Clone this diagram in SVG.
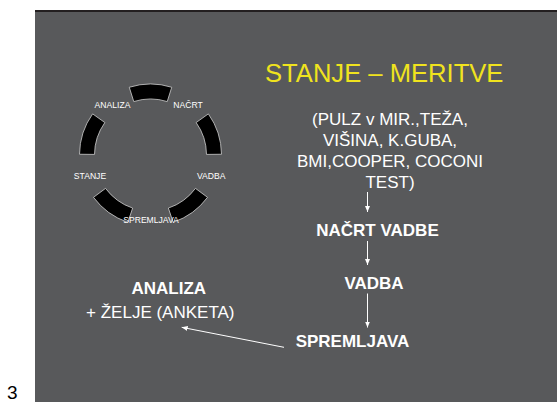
<svg xmlns="http://www.w3.org/2000/svg" width="557" height="402" viewBox="0 0 557 402">
<defs>
<style>
.t{font-family:"Liberation Sans",Arial,sans-serif;fill:#ffffff}
.s{font-size:8.6px;text-anchor:middle}
.m{font-size:17px;text-anchor:middle}
.b{font-weight:bold}
.seg{fill:#000000;stroke:#cfcfcf;stroke-width:0.8}
.c{stroke:#ffffff;stroke-width:1;fill:none}
</style>
<marker id="ah" markerWidth="7" markerHeight="6" refX="6" refY="3" orient="auto" markerUnits="userSpaceOnUse">
<path d="M0,0.5 L6,3 L0,5.5 z" fill="#ffffff"/>
</marker>
</defs>
<rect x="0" y="0" width="557" height="402" fill="#ffffff"/>
<rect x="35" y="10" width="522" height="392" fill="#58595b"/>
<rect x="35" y="10" width="522" height="2" fill="#231f20"/>
<text x="7" y="399" font-family="Liberation Sans,Arial,sans-serif" font-size="19" fill="#000000">3</text>

<g id="cycle">
<path class="seg" d="M129.27,87.25 A71,71 0 0 1 171.73,87.25 L167.24,101.56 A56,56 0 0 0 133.76,101.56 Z"/>
<path class="seg" d="M208.37,113.87 A71,71 0 0 1 221.5,154.26 L206.5,154.41 A56,56 0 0 0 196.15,122.56 Z"/>
<path class="seg" d="M207.5,197.33 A71,71 0 0 1 173.15,222.29 L168.36,208.08 A56,56 0 0 0 195.46,188.39 Z"/>
<path class="seg" d="M127.85,222.29 A71,71 0 0 1 93.5,197.33 L105.54,188.39 A56,56 0 0 0 132.64,208.08 Z"/>
<path class="seg" d="M79.5,154.26 A71,71 0 0 1 92.63,113.87 L104.85,122.56 A56,56 0 0 0 94.5,154.41 Z"/>
</g>
<g id="cycle-labels">
<text class="t s" x="112.5" y="107.5">ANALIZA</text>
<text class="t s" x="188" y="107.5">NAČRT</text>
<text class="t s" x="90" y="179.3">STANJE</text>
<text class="t s" x="211.2" y="179.3">VADBA</text>
<text class="t s" x="151" y="223.3">SPREMLJAVA</text>
</g>

<g id="title">
<text x="265" y="82" font-family="Liberation Sans,Arial,sans-serif" font-size="25.6" fill="#f0e31e">STANJE – MERITVE</text>
</g>

<g id="node-meritve">
<text class="t m" x="390" y="124.5">(PULZ v MIR.,TEŽA,</text>
<text class="t m" x="390" y="145.5">VIŠINA, K.GUBA,</text>
<text class="t m" x="390" y="166.5">BMI,COOPER, COCONI</text>
<text class="t m" x="390" y="187.5">TEST)</text>
</g>
<g id="node-nacrt">
<text class="t m b" x="377.5" y="235.5">NAČRT VADBE</text>
</g>
<g id="node-vadba">
<text class="t m b" x="374" y="289">VADBA</text>
</g>
<g id="node-spremljava">
<text class="t m b" x="352.5" y="346.7">SPREMLJAVA</text>
</g>
<g id="node-analiza">
<text class="t m b" x="168.8" y="294.3">ANALIZA</text>
<text class="t m" x="160.3" y="318.3">+ ŽELJE (ANKETA)</text>
</g>

<g id="connectors">
<line class="c" x1="367.5" y1="192" x2="367.5" y2="212" marker-end="url(#ah)"/>
<line class="c" x1="367.5" y1="241" x2="367.5" y2="265" marker-end="url(#ah)"/>
<line class="c" x1="367.5" y1="293.5" x2="367.5" y2="327.5" marker-end="url(#ah)"/>
<line class="c" x1="284" y1="347.3" x2="181.7" y2="327.3" marker-end="url(#ah)"/>
</g>
</svg>
